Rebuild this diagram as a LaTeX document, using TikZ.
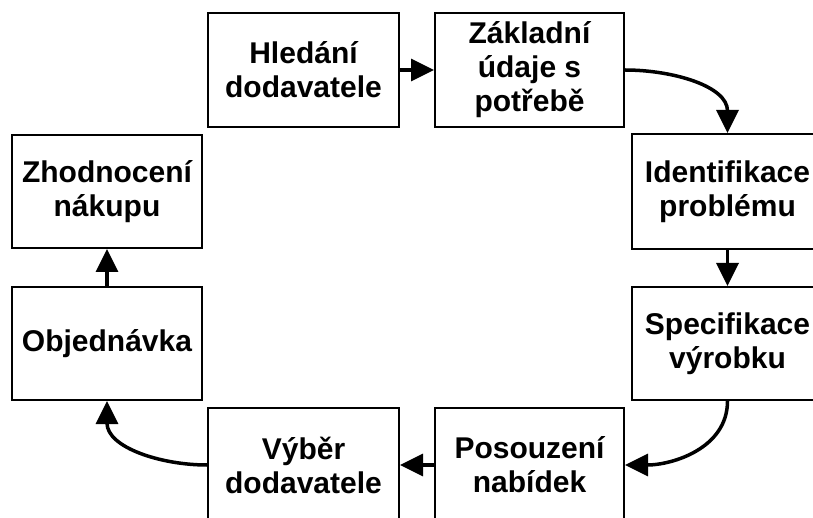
\documentclass[tikz,border=0pt]{standalone}
\usepackage{fontspec}
\setmainfont{Liberation Sans}
\usetikzlibrary{arrows.meta}
\begin{document}
\begin{tikzpicture}[x=1pt,y=-1pt,
  stage/.style={draw=black,line width=2pt,rectangle,inner sep=0pt,
    minimum width=191pt,minimum height=114pt,align=center,
    font=\fontsize{30}{34}\selectfont\bfseries},
  flow/.style={line width=3.5pt,-{Triangle[length=23pt,width=22pt]}}]
\useasboundingbox (0,0) rectangle (813,518);
\clip (0,0) rectangle (813,518);
\fill[white] (0,0) rectangle (813,518);

% purchase cycle stages
\node[stage] (hledani)   at (303.5,70)    {Hledání\\dodavatele};
\node[stage,minimum width=189pt] (zakladni) at (529.5,70) {Základní\\údaje s\\potřebě};
\node[stage,minimum height=115pt] (ident) at (727.5,191.5) {Identifikace\\problému};
\node[stage,minimum height=113pt] (spec)  at (727.5,343.5) {Specifikace\\výrobku};
\node[stage,minimum width=189pt] (posouzeni) at (529.5,465) {Posouzení\\nabídek};
\node[stage] (vyber)     at (303.5,465)   {Výběr\\dodavatele};
\node[stage,minimum width=190pt,minimum height=113pt] (objednavka) at (107,343.5) {Objednávka};
\node[stage,minimum width=190pt,minimum height=113pt] (zhodnoceni) at (107,191.5) {Zhodnocení\\nákupu};

% connectors
\draw[flow] (hledani) -- (zakladni);
\draw[flow] (zakladni.east) to[out=0,in=90] (ident.north);
\draw[flow] (ident) -- (spec);
\draw[flow] (spec.south) to[out=-90,in=0] (posouzeni.east);
\draw[flow] (posouzeni) -- (vyber);
\draw[flow] (vyber.west) to[out=180,in=-90] (objednavka.south);
\draw[flow] (objednavka) -- (zhodnoceni);
\end{tikzpicture}
\end{document}
